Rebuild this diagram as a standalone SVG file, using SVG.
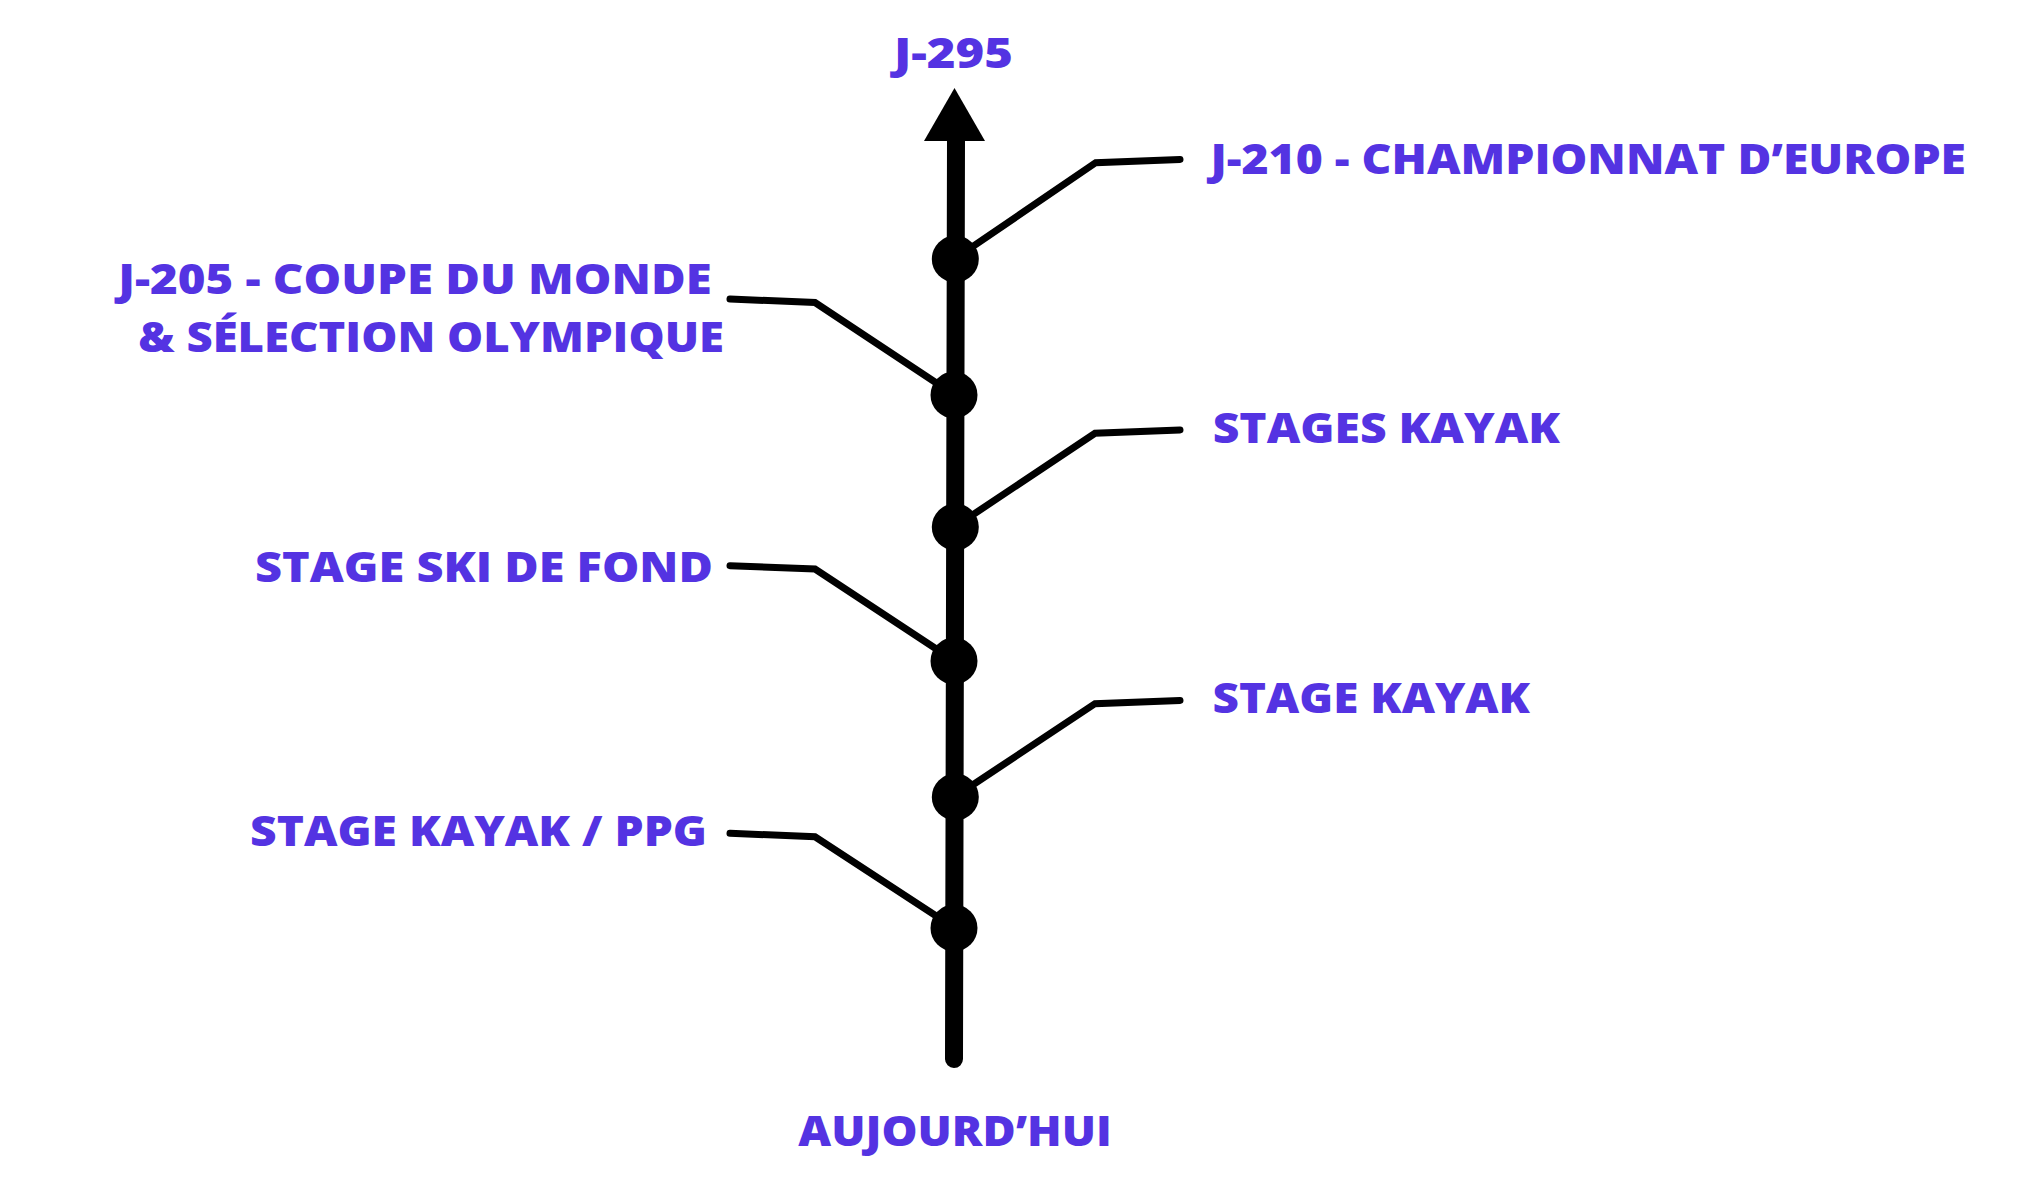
<svg xmlns="http://www.w3.org/2000/svg" width="2018" height="1194" viewBox="0 0 2018 1194">
<style>
.lbl{font-family:"Open Sans","Liberation Sans",sans-serif;font-weight:800;font-size:43px;fill:#5433e2}
.conn{fill:none;stroke:#000;stroke-width:7;stroke-linecap:round;stroke-linejoin:miter}
.dot{fill:#000}
</style>
<rect width="2018" height="1194" fill="#fff"/>
<g id="axis">
<line x1="956" y1="138" x2="954" y2="1059" stroke="#000" stroke-width="18" stroke-linecap="round"/>
<polygon points="954.5,88 924,141 985,141" fill="#000"/>
</g>
<g id="connectors">
<polyline class="conn" points="950,262 1095.7,162.7 1180,159.5"/>
<polyline class="conn" points="730,299 815,302.5 950,392"/>
<polyline class="conn" points="950,530 1095,433.3 1180,430"/>
<polyline class="conn" points="730,565.7 815,569 950,658"/>
<polyline class="conn" points="950,800 1095,703.7 1180,700.5"/>
<polyline class="conn" points="730,833.3 815,836.7 950,925"/>
</g>
<g id="n-dots">
<circle class="dot" cx="955.3" cy="259" r="23.5"/>
<circle class="dot" cx="954" cy="395" r="23.5"/>
<circle class="dot" cx="955.3" cy="527" r="23.5"/>
<circle class="dot" cx="954" cy="661" r="23.5"/>
<circle class="dot" cx="955.3" cy="797" r="23.5"/>
<circle class="dot" cx="954" cy="928" r="23.5"/>
</g>
<g id="n-top"><text class="lbl" x="894" y="68" textLength="119" lengthAdjust="spacingAndGlyphs">J-295</text></g>
<g id="n-j210"><text class="lbl" x="1210.5" y="174" textLength="755.5" lengthAdjust="spacingAndGlyphs">J-210 - CHAMPIONNAT D’EUROPE</text></g>
<g id="n-j205">
<text class="lbl" x="118.3" y="294" textLength="593.4" lengthAdjust="spacingAndGlyphs">J-205 - COUPE DU MONDE</text>
<text class="lbl" x="138.3" y="352" textLength="585.7" lengthAdjust="spacingAndGlyphs">&amp; SÉLECTION OLYMPIQUE</text>
</g>
<g id="n-stages"><text class="lbl" x="1212.7" y="443" textLength="347.3" lengthAdjust="spacingAndGlyphs">STAGES KAYAK</text></g>
<g id="n-ski"><text class="lbl" x="255" y="581.5" textLength="457.8" lengthAdjust="spacingAndGlyphs">STAGE SKI DE FOND</text></g>
<g id="n-kayak"><text class="lbl" x="1212.5" y="713" textLength="317.5" lengthAdjust="spacingAndGlyphs">STAGE KAYAK</text></g>
<g id="n-ppg"><text class="lbl" x="250" y="846" textLength="457" lengthAdjust="spacingAndGlyphs">STAGE KAYAK / PPG</text></g>
<g id="n-today"><text class="lbl" x="798.3" y="1146" textLength="313.4" lengthAdjust="spacingAndGlyphs">AUJOURD’HUI</text></g>
</svg>
